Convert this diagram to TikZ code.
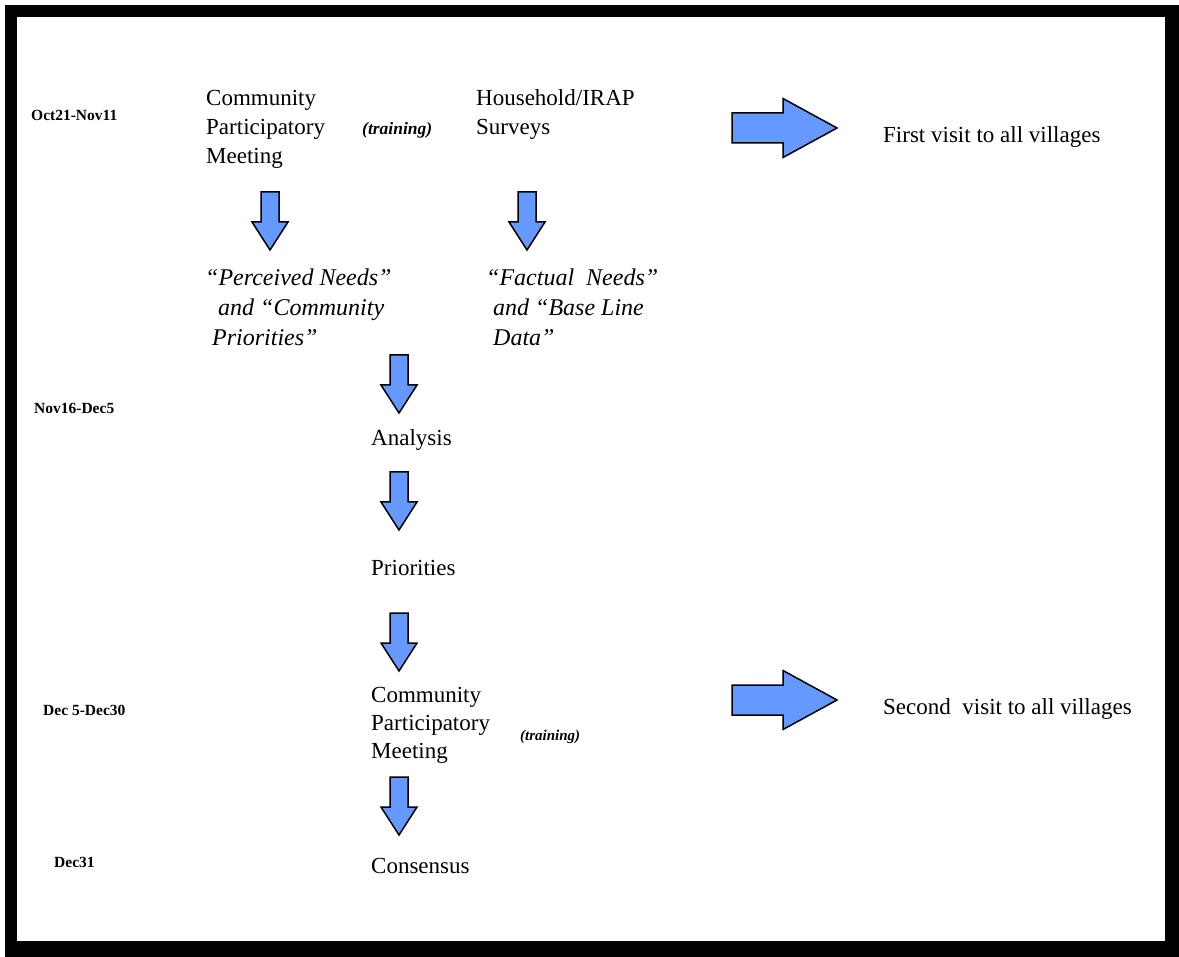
\documentclass[tikz,border=0pt]{standalone}
\usepackage{fontspec}
\setmainfont{Liberation Serif}
\definecolor{arrowblue}{RGB}{102,153,255}
\begin{document}
\begin{tikzpicture}[x=1pt,y=-1pt,
  blockarrow/.style={fill=arrowblue,draw=black,line width=1.5pt,line join=miter},
  darr/.pic={\draw[blockarrow] (-9,0) -- (9,0) -- (9,30) -- (18,30) -- (0,58) -- (-18,30) -- (-9,30) -- cycle;},
  rarr/.pic={\draw[blockarrow] (0,-15) -- (51,-15) -- (51,-29.5) -- (105,0) -- (51,29.5) -- (51,15) -- (0,15) -- cycle;},
  txt/.style={inner sep=0pt,anchor=west,align=left,font=\fontsize{23}{29}\selectfont},
  itxt/.style={inner sep=0pt,anchor=west,align=left,font=\itshape\fontsize{24}{30}\selectfont},
  datetxt/.style={inner sep=0pt,anchor=west,font=\bfseries\fontsize{15.5}{18}\selectfont},
  traintxt/.style={inner sep=0pt,anchor=west,font=\bfseries\itshape\fontsize{#1}{18}\selectfont},
]
\useasboundingbox (0,0) rectangle (1179,957);
\fill[white] (0,0) rectangle (1179,957);
\fill[black] (5,5) rectangle (1179,957);
\fill[white] (17,17) rectangle (1165,941);

% dates
\node[datetxt] (d1) at (31,115) {Oct21-Nov11};
\node[datetxt] (d2) at (34,408) {Nov16-Dec5};
\node[datetxt] (d3) at (43,710) {Dec 5-Dec30};
\node[datetxt] (d4) at (54,862) {Dec31};

% first row
\node[txt] (cpm1) at (206,129) {Community\\Participatory\\Meeting};
\node[traintxt=17.5] (tr1) at (362,130) {(training)};
\node[txt] (hh) at (476,115) {Household/IRAP\\Surveys};
\pic (ra1) at (732,128) {rarr};
\node[txt] (v1) at (883,137) {First visit to all villages};

\pic (a1) at (270,192) {darr};
\pic (a2) at (527,192) {darr};

\node[itxt] (pn) at (205,307) {“Perceived Needs”\\\hspace*{13pt}and “Community\\\hspace*{7pt}Priorities”};
\node[itxt] (fn) at (486,307) {“Factual~ Needs”\\\hspace*{7pt}and “Base Line\\\hspace*{7pt}Data”};

\pic (a3) at (399,355) {darr};
\node[txt] (an) at (371,440) {Analysis};
\pic (a4) at (399,472) {darr};
\node[txt] (pr) at (371,568) {Priorities};
\pic (a5) at (399,613) {darr};
\node[txt,font=\fontsize{23}{28}\selectfont] (cpm2) at (371,725) {Community\\Participatory\\Meeting};
\node[traintxt=15] (tr2) at (520,737) {(training)};
\pic (ra2) at (732,700) {rarr};
\node[txt] (v2) at (883,709) {Second~ visit to all villages};
\pic (a6) at (399,777) {darr};
\node[txt] (cons) at (371,866) {Consensus};
\end{tikzpicture}
\end{document}
